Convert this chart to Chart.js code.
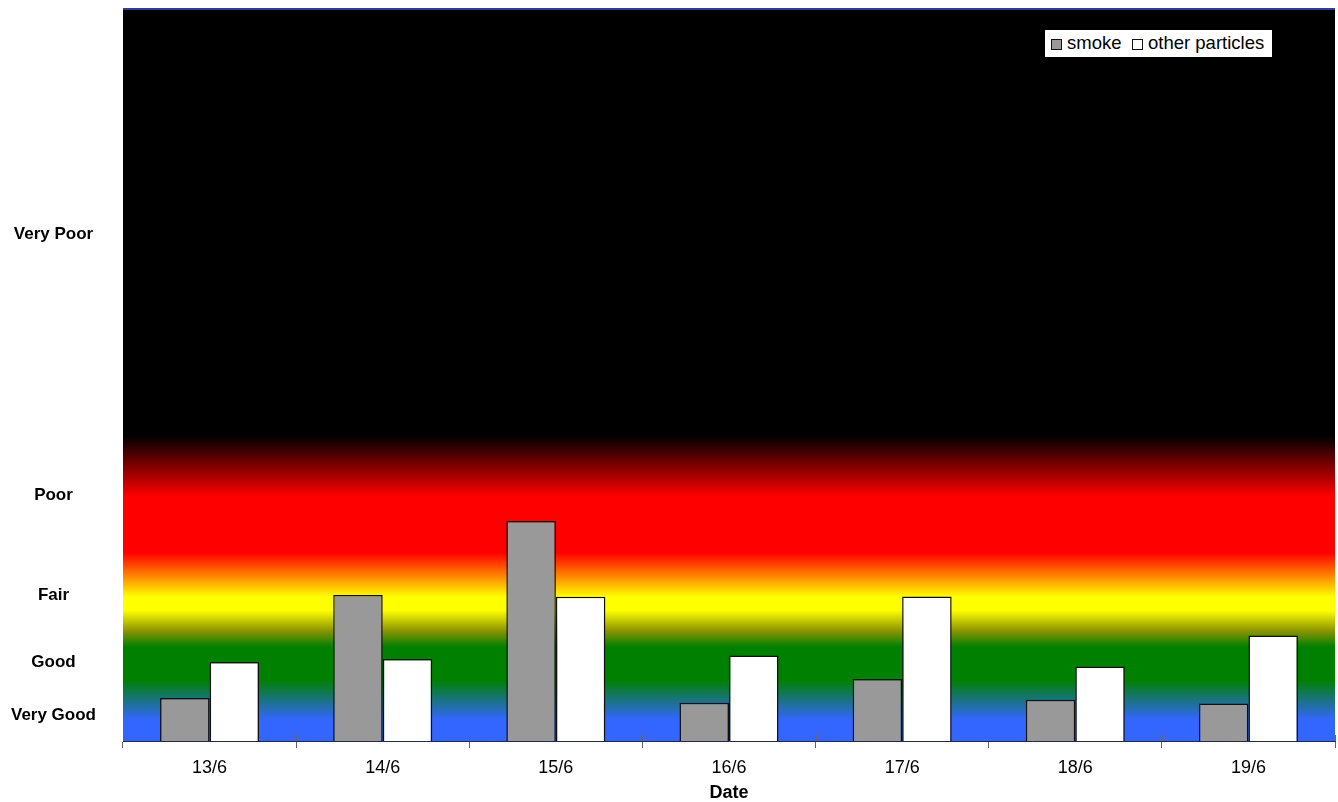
<!DOCTYPE html>
<html>
<head>
<meta charset="utf-8">
<script src="https://cdn.jsdelivr.net/npm/chart.js@4.4.1/dist/chart.umd.min.js"></script>
<style>
  html, body { margin: 0; padding: 0; background: #ffffff; }
  #wrap { position: relative; width: 1338px; height: 802px; }
  #legend {
    position: absolute; left: 1045px; top: 30px; width: 227px; height: 27px;
    background: #ffffff; font-family: "Liberation Sans", Arial, sans-serif;
    font-size: 18.5px; color: #000;
  }
  #legend .sw { position: absolute; top: 9px; width: 9px; height: 9px; border: 1px solid #111; }
  #legend .tx { position: absolute; top: 2px; line-height: 22px; white-space: nowrap; }
</style>
</head>
<body>
<div id="wrap">
  <canvas id="chart" width="1338" height="802"></canvas>
  <div id="legend"></div>
</div>
<script>
// Daily pollution readings by date
const dates = ['13/6', '14/6', '15/6', '16/6', '17/6', '18/6', '19/6'];
const smoke = [17.6, 59.8, 90.0, 15.7, 25.4, 16.9, 15.3];
const otherParticles = [32.3, 33.6, 59.0, 35.0, 59.1, 30.5, 43.2];

// Air-quality bands shown on the value axis
const bandLabels = ['Very Good', 'Good', 'Fair', 'Poor', 'Very Poor'];
const bandValues = [10.7, 32.4, 59.8, 100.4, 207.4];

const seriesNames = ['smoke', 'other particles'];
const seriesColors = ['#999999', '#ffffff'];

// Paints the banded colour gradient behind the bars, plus the top rule
const bandBackground = {
  id: 'bandBackground',
  beforeDatasetsDraw(chart) {
    const { ctx, chartArea: a, scales: { y } } = chart;
    const g = ctx.createLinearGradient(0, a.top, 0, a.bottom);
    const stops = [
      [300, '#000000'], [125, '#000000'], [100, '#ff0000'],
      [77, '#ff0000'], [59, '#ffff00'], [53.5, '#ffff00'],
      [45, '#8a9400'], [38.5, '#008000'], [25, '#008000'],
      [8.6, '#3366ff'], [0, '#3366ff']
    ];
    stops.forEach(([v, c]) => {
      const p = (y.getPixelForValue(v) - a.top) / (a.bottom - a.top);
      g.addColorStop(Math.min(1, Math.max(0, p)), c);
    });
    ctx.save();
    ctx.fillStyle = g;
    ctx.fillRect(a.left, a.top, a.right - a.left, a.bottom - a.top);
    ctx.strokeStyle = '#2a3f98';
    ctx.lineWidth = 2;
    ctx.beginPath();
    ctx.moveTo(a.left, a.top + 1);
    ctx.lineTo(a.right, a.top + 1);
    ctx.stroke();
    ctx.restore();
  },
  // short upward stubs so the date ticks cross the axis line
  afterDatasetsDraw(chart) {
    const { ctx, chartArea: a, scales: { x } } = chart;
    ctx.save();
    ctx.strokeStyle = '#666666';
    ctx.lineWidth = 1;
    ctx.beginPath();
    for (let i = 0; i <= dates.length; i++) {
      const px = Math.round(x.getPixelForValue(i - 0.5)) + 0.5;
      ctx.moveTo(px, a.bottom - 6);
      ctx.lineTo(px, a.bottom);
    }
    ctx.stroke();
    ctx.restore();
  }
};

const chart = new Chart(document.getElementById('chart'), {
  type: 'bar',
  data: {
    labels: dates,
    datasets: [
      { label: seriesNames[0], data: smoke, backgroundColor: seriesColors[0] },
      { label: seriesNames[1], data: otherParticles, backgroundColor: seriesColors[1] }
    ]
  },
  options: {
    responsive: false,
    animation: false,
    layout: { padding: { top: 8, right: 3, left: 0, bottom: 0 } },
    datasets: {
      bar: {
        barPercentage: 1,
        categoryPercentage: 0.572,
        borderColor: '#111111',
        borderWidth: 1.5
      }
    },
    plugins: {
      legend: { display: false },
      tooltip: { enabled: false }
    },
    scales: {
      x: {
        grid: {
          display: true, drawOnChartArea: false, drawTicks: true,
          tickLength: 7, offset: true, color: '#666666'
        },
        border: { display: true, color: '#222a44', width: 1 },
        ticks: {
          color: '#000000', padding: 9,
          font: { family: '"Liberation Sans", Arial, sans-serif', size: 18 }
        },
        title: {
          display: true, text: 'Date', color: '#000000',
          padding: { top: 0, bottom: 0 },
          font: { family: '"Liberation Sans", Arial, sans-serif', size: 18, weight: 'bold', lineHeight: 1 }
        },
        afterFit(scale) { scale.height = 61; }
      },
      y: {
        min: 0, max: 300,
        grid: { display: false, drawTicks: false },
        border: { display: false },
        afterBuildTicks(scale) {
          scale.ticks = bandValues.map(v => ({ value: v }));
        },
        ticks: {
          autoSkip: false,
          crossAlign: 'center',
          padding: 27,
          color: '#000000',
          font: { family: '"Liberation Sans", Arial, sans-serif', size: 17, weight: 'bold' },
          callback(value) {
            const i = bandValues.indexOf(value);
            return i >= 0 ? bandLabels[i] : '';
          }
        },
        afterFit(scale) {
          scale.width = 123;
          scale.paddingTop = 0;
          scale.paddingBottom = 0;
        }
      }
    }
  },
  plugins: [bandBackground]
});

// Legend box inside the plot area
const legend = document.getElementById('legend');
const legendLayout = [
  { sw: 5.5, tx: 22 },
  { sw: 86.5, tx: 103 }
];
seriesNames.forEach((name, i) => {
  const sw = document.createElement('span');
  sw.className = 'sw';
  sw.style.left = legendLayout[i].sw + 'px';
  sw.style.background = seriesColors[i];
  const tx = document.createElement('span');
  tx.className = 'tx';
  tx.style.left = legendLayout[i].tx + 'px';
  tx.textContent = name;
  legend.appendChild(sw);
  legend.appendChild(tx);
});
</script>
</body>
</html>
